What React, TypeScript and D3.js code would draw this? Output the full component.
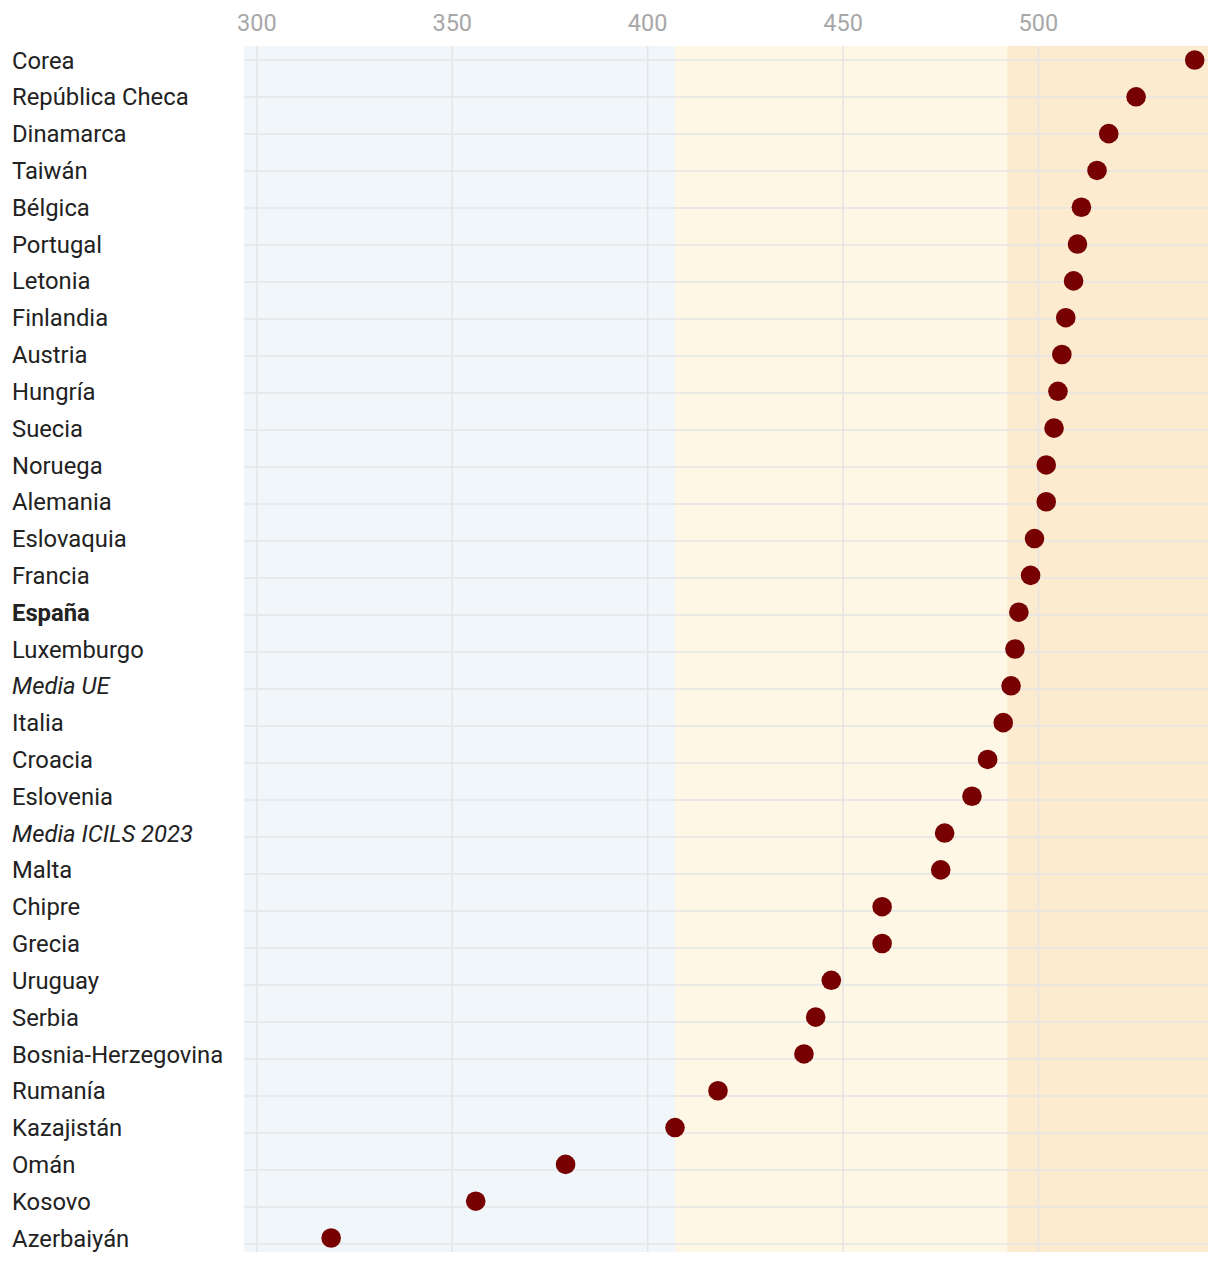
import { scaleLinear, scalePoint } from "d3";

const countries = [
  "Corea", "República Checa", "Dinamarca", "Taiwán", "Bélgica", "Portugal", "Letonia",
  "Finlandia", "Austria", "Hungría", "Suecia", "Noruega", "Alemania", "Eslovaquia",
  "Francia", "España", "Luxemburgo", "Media UE", "Italia", "Croacia", "Eslovenia",
  "Media ICILS 2023", "Malta", "Chipre", "Grecia", "Uruguay", "Serbia",
  "Bosnia-Herzegovina", "Rumanía", "Kazajistán", "Omán", "Kosovo", "Azerbaiyán",
];
const scores = [
  540, 525, 518, 515, 511, 510, 509, 507, 506, 505, 504, 502, 502, 499, 498, 495, 494,
  493, 491, 487, 483, 476, 475, 460, 460, 447, 443, 440, 418, 407, 379, 356, 319,
];
const xTicks = [300, 350, 400, 450, 500];
// ICILS proficiency bands
const bandEdges = [296.7, 407, 492, 543.4];
const bandColors = ["#f1f6fa", "#fef7e5", "#fdebcf"];
const boldRows = ["España"];
const italicRows = ["Media UE", "Media ICILS 2023"];

const W = 1220;
const H = 1262;
const plot = { left: 244, right: 1208, top: 46, bottom: 1252 };

export default function App() {
  const x = scaleLinear().domain([296.7, 543.4]).range([plot.left, plot.right]);
  const y = scalePoint<string>().domain(countries).range([60, 1238]);
  const yLine = scalePoint<string>().domain(countries).range([60, 1244]);

  return (
    <svg
      width={W}
      height={H}
      style={{ position: "absolute", left: 0, top: 0, fontFamily: "Roboto, sans-serif" }}
    >
      <rect width={W} height={H} fill="#fff" />
      {/* background bands */}
      {bandColors.map((c, i) => (
        <rect
          key={i}
          x={x(bandEdges[i])}
          y={plot.top}
          width={x(bandEdges[i + 1]) - x(bandEdges[i])}
          height={plot.bottom - plot.top}
          fill={c}
        />
      ))}
      {/* vertical grid */}
      {xTicks.map((t) => (
        <line
          key={t}
          x1={x(t)}
          x2={x(t)}
          y1={plot.top}
          y2={plot.bottom}
          stroke="#e4e4e4"
          strokeWidth={1.5}
        />
      ))}
      {/* row lines */}
      {countries.map((c) => (
        <line
          key={c}
          x1={plot.left}
          x2={plot.right}
          y1={yLine(c)}
          y2={yLine(c)}
          stroke="#e4e4e4"
          strokeWidth={1.5}
        />
      ))}
      {/* tick labels */}
      {xTicks.map((t) => (
        <text key={t} x={x(t)} y={31} textAnchor="middle" fontSize={23.5} fill="#a8a8a8">
          {t}
        </text>
      ))}
      {/* row labels */}
      {countries.map((c) => (
        <text
          key={c}
          x={12}
          y={y(c)}
          dy="0.36em"
          fontSize={23.8}
          fill="#222"
          fontWeight={boldRows.includes(c) ? 700 : 400}
          fontStyle={italicRows.includes(c) ? "italic" : "normal"}
        >
          {c}
        </text>
      ))}
      {/* dots */}
      {countries.map((c, i) => (
        <circle key={c} cx={x(scores[i])} cy={y(c)} r={9.8} fill="#770000" />
      ))}
    </svg>
  );
}
